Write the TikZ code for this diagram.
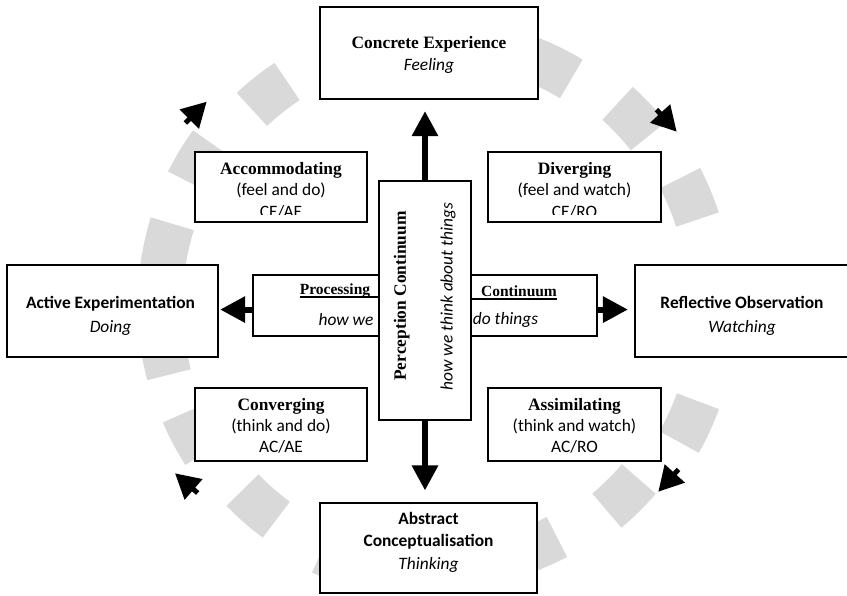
\documentclass[tikz,border=0pt]{standalone}
\usepackage{fontspec}
\setmainfont{Carlito}
\newfontfamily\timesfont{Liberation Serif}
\usetikzlibrary{arrows.meta,calc}
\definecolor{ringgray}{RGB}{217,217,217}
\newcommand{\pxu}{0.69pt}

\begin{document}
\begin{tikzpicture}[x=0.69pt, y=-0.69pt,
    box/.style={draw, line width=1.5pt, fill=white, inner sep=0pt},
    boxsize/.style 2 args={minimum width=#1*\pxu, minimum height=#2*\pxu},
    boxtext/.style={align=center, inner sep=0pt, font=\fontsize{12}{14.8}\selectfont},
    mainarrow/.style={line width=4.1pt, -{Triangle[length=17.25pt, width=17.25pt]}},
    ringdash/.style={ringgray, line width=31pt},
    ringtip/.style={line width=3.4pt, -{Triangle[length=17pt, width=18pt]}}]
    \useasboundingbox (0,0) rectangle (847,595);

    % Grey dashed cycle behind the boxes
    \coordinate (ringc) at (435,305);
    \foreach \a/\r in {63.8/264, 43.1/272, 22.7/276, -24.7/280, -45.3/268, -67.2/262,
        250/272, 228.7/267, 208/274, 190/275, 167.5/275, 148.8/276, 128.3/268} {
        \pgfmathsetmacro{\h}{1289/\r}
        \draw[ringdash] ([shift={(-\a+\h:\r)}]ringc) arc[start angle=-\a+\h, end angle=-\a-\h, radius=\r];
    }

    % Cycle arrow heads
    \draw[ringtip] (185.4,123) -- (206.7,101.7);
    \draw[ringtip] (656.5,109.6) -- (676.7,131.7);
    \draw[ringtip] (678.5,469.4) -- (658.3,491.7);
    \draw[ringtip] (197.7,493) -- (175,473.3);

    % Outer boxes
    \node[box, boxsize={218}{92}] (ce) at (429,53) {};
    \node[box, boxsize={211}{92}] (ae) at (112.5,311) {};
    \node[box, boxsize={214}{92}] (ro) at (742,311) {};
    \node[box, boxsize={217}{90}] (ac) at (428.5,548) {};
    \node[boxtext, font=\fontsize{12}{15.2}\selectfont] (ce-t) at (429,55)
        {{\timesfont\bfseries Concrete Experience}\\\textit{Feeling}};
    \node[boxtext, font=\fontsize{12}{16.2}\selectfont] (ae-t) at (110.5,316)
        {\textbf{Active Experimentation}\\\textit{Doing}};
    \node[boxtext, font=\fontsize{12}{16.2}\selectfont] (ro-t) at (742,316)
        {\textbf{Reflective Observation}\\\textit{Watching}};
    \node[boxtext, font=\fontsize{12}{15.5}\selectfont] (ac-t) at (428.5,542)
        {\textbf{Abstract}\\\textbf{Conceptualisation}\\\textit{Thinking}};

    % Learning style boxes
    \node[box, boxsize={172}{70}] (acc) at (281,187) {};
    \node[box, boxsize={173}{70}] (div) at (574.5,187) {};
    \node[box, boxsize={172}{73}] (conv) at (281,424.5) {};
    \node[box, boxsize={173}{73}] (assim) at (574.5,424.5) {};
    \begin{scope}
        \clip (acc.north west) rectangle ([yshift=6pt]div.south east);
        \node[boxtext] (acc-t) at (281,190)
            {{\timesfont\bfseries Accommodating}\\(feel and do)\\CE/AE};
        \node[boxtext] (div-t) at (574.5,190)
            {{\timesfont\bfseries Diverging}\\(feel and watch)\\CE/RO};
    \end{scope}
    \node[boxtext, font=\fontsize{12}{14.6}\selectfont] (conv-t) at (281,426)
        {{\timesfont\bfseries Converging}\\(think and do)\\AC/AE};
    \node[boxtext, font=\fontsize{12}{14.6}\selectfont] (assim-t) at (574.5,426)
        {{\timesfont\bfseries Assimilating}\\(think and watch)\\AC/RO};

    % Processing continuum
    \node[box, boxsize={344}{61}] (proc) at (425,305.5) {};
    \node[inner sep=0pt, font=\fontsize{10.7}{13}\selectfont\timesfont\bfseries] (proc-t) at (335,291) {Processing};
    \node[inner sep=0pt, font=\fontsize{10.7}{13}\selectfont\timesfont\bfseries] (cont-t) at (519,291) {Continuum};
    \node[inner sep=0pt, font=\fontsize{12}{14}\selectfont\itshape] (proc-t2) at (346,320) {how we};
    \node[inner sep=0pt, font=\fontsize{12}{14}\selectfont\itshape] (cont-t2) at (505.5,320) {do things};

    % Perception continuum
    \node[box, boxsize={92}{239}] (perc) at (425,300.5) {};
    \node[inner sep=0pt, rotate=90, font=\fontsize{12}{14}\selectfont\timesfont\bfseries] (perc-t) at (401.7,296) {Perception Continuum};
    \node[inner sep=0pt, rotate=90, font=\fontsize{12}{14}\selectfont\itshape] (perc-t2) at (448,296.7) {how we think about things};
    \draw[line width=1.3pt] ([yshift=-1.7pt]proc-t.base west) -- ([yshift=-1.7pt]proc-t.base west -| perc.west);
    \draw[line width=1.3pt] ([yshift=-1.7pt]cont-t.base east) -- ([yshift=-1.7pt]cont-t.base east -| perc.east);

    % Arrows to the four modes
    \draw[mainarrow, shorten >=7.6pt] (perc.north) -- (perc.north |- ce.south);
    \draw[mainarrow, shorten >=7.9pt] (perc.south) -- (perc.south |- ac.north);
    \draw[mainarrow, shorten >=0.7pt] ([yshift=-2.8pt]proc.west) -- ([yshift=-2.8pt]proc.west -| ae.east);
    \draw[mainarrow, shorten >=4.1pt] ([yshift=-2.8pt]proc.east) -- ([yshift=-2.8pt]proc.east -| ro.west);
\end{tikzpicture}
\end{document}
